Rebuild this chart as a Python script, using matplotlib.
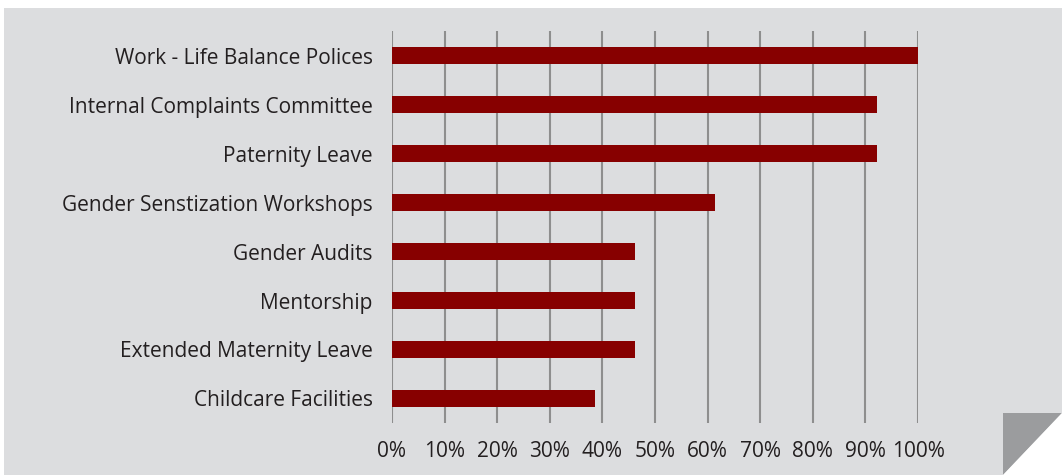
import matplotlib.pyplot as plt
from matplotlib.patches import Rectangle, Polygon

# 데이터
categories = ['Work - Life Balance Polices', 'Internal Complaints Committee',
              'Paternity Leave', 'Gender Senstization Workshops', 'Gender Audits',
              'Mentorship', 'Extended Maternity Leave', 'Childcare Facilities']
values = [1.0, 0.923, 0.923, 0.615, 0.462, 0.462, 0.462, 0.385]
tick_vals = [0, 0.1, 0.2, 0.3, 0.4, 0.5, 0.6, 0.7, 0.8, 0.9, 1.0]
tick_labels = ['0%', '10%', '20%', '30%', '40%', '50%', '60%', '70%', '80%', '90%', '100%']

plt.rcParams['font.family'] = ['Open Sans', 'DejaVu Sans']

W, H = 1062, 475
fig = plt.figure(figsize=(W / 100, H / 100), dpi=100)
fig.patch.set_facecolor('white')

# 회색 배경과 접힌 모서리
bg = '#dcdddf'
fig.patches.append(Rectangle((4 / W, 0), 1 - 4 / W, 1 - 8 / H, transform=fig.transFigure,
                             facecolor=bg, edgecolor='none', zorder=-10))
fig.patches.append(Polygon([(1003 / W, 1 - 413 / H), (1, 1 - 413 / H), (1003 / W, 0)],
                           closed=True, transform=fig.transFigure,
                           facecolor='#9b9c9e', edgecolor='none', zorder=-5))
fig.patches.append(Polygon([(1, 1 - 413 / H), (1, 0), (1003 / W, 0)],
                           closed=True, transform=fig.transFigure,
                           facecolor='white', edgecolor='none', zorder=-5))

ax = fig.add_axes([392 / W, 1 - 423 / H, (918 - 392) / W, (423 - 31) / H])
ax.set_facecolor('none')
ax.set_zorder(5)

y = list(range(len(categories)))
ax.barh(y, values, height=0.35, color='#870000', zorder=3)

ax.set_xlim(0, 1)
ax.set_ylim(len(categories) - 0.5, -0.5)
ax.set_yticks(y)
ax.set_yticklabels(categories, fontsize=15, color='#231f20')
ax.set_xticks(tick_vals)
ax.set_xticklabels(tick_labels, fontsize=15, color='#231f20')
ax.tick_params(axis='both', length=0)
ax.tick_params(axis='y', pad=14)
ax.tick_params(axis='x', pad=13)

ax.grid(axis='x', color='#8e8e8e', linewidth=1.5, zorder=1)
for s in ax.spines.values():
    s.set_visible(False)

fig.savefig('out.png', dpi=100)
